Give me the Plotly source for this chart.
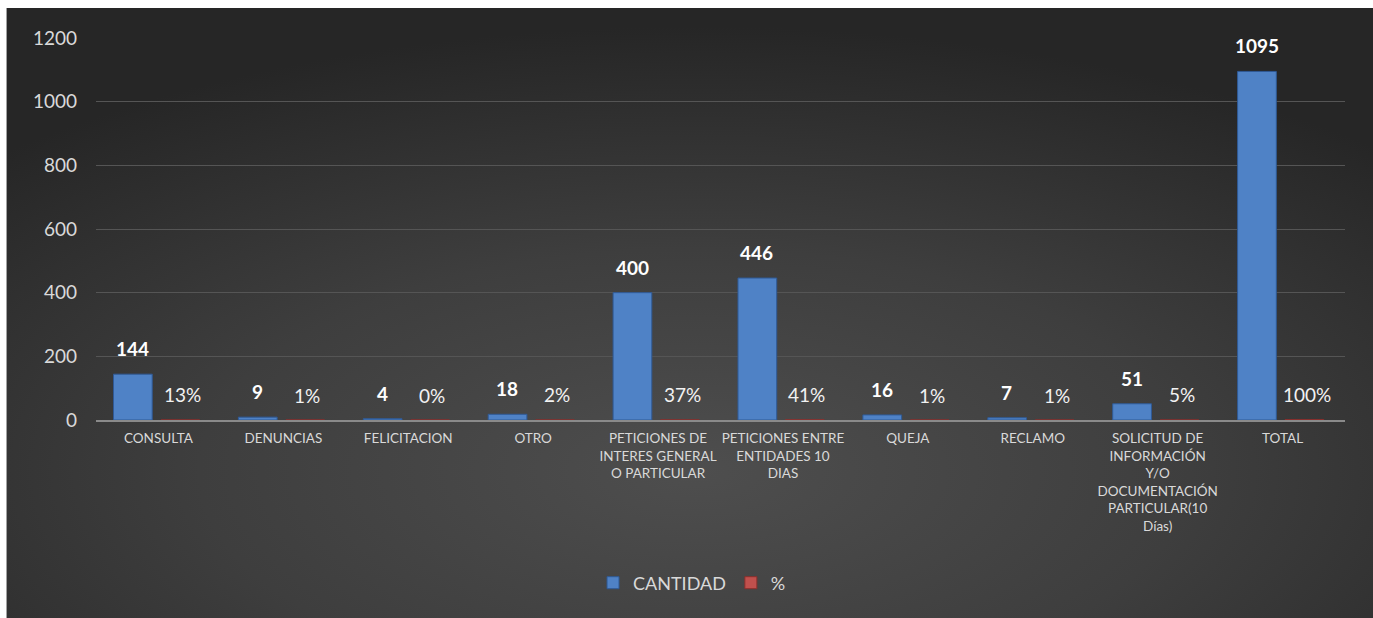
import base64
import plotly.graph_objects as go

categories = [
    "CONSULTA", "DENUNCIAS", "FELICITACION", "OTRO",
    "PETICIONES DE<br>INTERES GENERAL<br>O PARTICULAR",
    "PETICIONES ENTRE<br>ENTIDADES 10<br>DIAS",
    "QUEJA", "RECLAMO",
    "SOLICITUD DE<br>INFORMACIÓN<br>Y/O<br>DOCUMENTACIÓN<br>PARTICULAR(10<br>Días)",
    "TOTAL",
]
cantidad = [144, 9, 4, 18, 400, 446, 16, 7, 51, 1095]
porcentaje = [0.13, 0.01, 0.00, 0.02, 0.37, 0.41, 0.01, 0.01, 0.05, 1.00]

W, H = 1373, 618
L, R, T, B = 95.5, 27.5, 38, 198
pw, ph = W - L - R, H - T - B
FONT = "Lato, 'Open Sans', sans-serif"
TXT = "#d9d9d9"

fig = go.Figure()
fig.add_trace(go.Bar(
    x=categories, y=cantidad, name="CANTIDAD",
    width=0.31, offset=-0.36,
    marker=dict(color="#4f82c6", line=dict(color="#2f5a96", width=1)),
))
fig.add_trace(go.Bar(
    x=categories, y=porcentaje, name="%",
    width=0.31, offset=0.02,
    marker=dict(color="#c0504d", line=dict(color="#8c2f2c", width=1)),
))

for c, v in zip(categories, cantidad):
    fig.add_annotation(x=c, y=v, text=f"<b>{v}</b>", showarrow=False,
                       xshift=-26, yshift=12, yanchor="bottom",
                       font=dict(family=FONT, size=19, color="#ffffff"))
for c, p in zip(categories, porcentaje):
    fig.add_annotation(x=c, y=p, text=f"{round(p*100)}%", showarrow=False,
                       xshift=24, yshift=25, yanchor="middle",
                       font=dict(family=FONT, size=19, color="#f2f2f2"))

svg = f'''<svg xmlns="http://www.w3.org/2000/svg" width="{W-6}" height="{H-8}" viewBox="0 0 100 100" preserveAspectRatio="none">
<defs><radialGradient id="g" cx="50%" cy="75%" r="72%">
<stop offset="0%" stop-color="#4e4e4e"/>
<stop offset="50%" stop-color="#3e3e3e"/>
<stop offset="100%" stop-color="#262626"/>
</radialGradient></defs>
<rect x="0" y="0" width="100" height="100" fill="url(#g)"/></svg>'''
src = "data:image/svg+xml;base64," + base64.b64encode(svg.encode()).decode()
fig.add_layout_image(dict(
    source=src, xref="paper", yref="paper",
    x=(6 - L) / pw, y=1 + (T - 8) / ph,
    sizex=(W - 6) / pw + 0.01, sizey=(H - 8) / ph + 0.02,
    xanchor="left", yanchor="top", sizing="stretch", layer="below",
))

# white outer border strips (left and top)
fig.add_shape(type="rect", xref="paper", yref="paper",
              x0=-L / pw - 0.01, x1=(6 - L) / pw, y0=-B / ph - 0.02, y1=1 + T / ph + 0.02,
              fillcolor="#ffffff", line=dict(width=0), layer="above")
fig.add_shape(type="rect", xref="paper", yref="paper",
              x0=-L / pw - 0.01, x1=1 + R / pw + 0.01, y0=1 + (T - 8) / ph, y1=1 + T / ph + 0.02,
              fillcolor="#ffffff", line=dict(width=0), layer="above")

fig.update_layout(
    width=W, height=H,
    margin=dict(l=L, r=R, t=T, b=B, pad=0),
    paper_bgcolor="#262626", plot_bgcolor="rgba(0,0,0,0)",
    barmode="group", showlegend=True,
    font=dict(family=FONT, color=TXT),
    legend=dict(orientation="h", x=(692 - L) / pw, xanchor="center",
                y=-(583 - 420) / ph, yanchor="middle",
                font=dict(family=FONT, size=18, color=TXT),
                bgcolor="rgba(0,0,0,0)", itemwidth=30),
    xaxis=dict(type="category", showgrid=False, ticks="",
               showline=True, linecolor="#8a8a8a", linewidth=1.5,
               tickfont=dict(family=FONT, size=13.5, color=TXT),
               ticklabelstandoff=5),
    yaxis=dict(range=[0, 1200], dtick=200, showgrid=True,
               gridcolor="#555555", gridwidth=1, zeroline=False,
               showline=False, ticks="",
               tickfont=dict(family=FONT, size=19, color=TXT),
               ticklabelstandoff=18),
)

fig.write_html("out.html", config={"displayModeBar": False},
               post_script="document.body.style.margin='0';document.body.style.padding='0';document.body.style.background='#262626';document.body.style.overflow='hidden';document.documentElement.style.overflow='hidden';")
